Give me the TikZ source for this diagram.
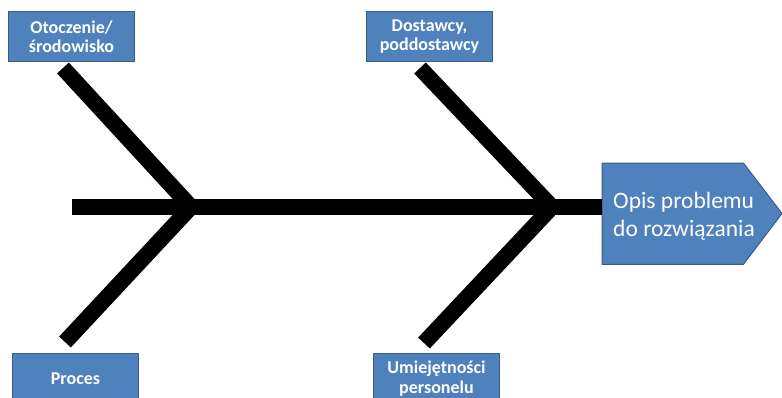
\documentclass[tikz,border=0pt]{standalone}
\usepackage{fontspec}
\setmainfont{Carlito}
\definecolor{boxfill}{RGB}{79,129,189}
\definecolor{boxline}{RGB}{56,93,138}
\begin{document}
\begin{tikzpicture}[x=1pt,y=-1pt,
  label box/.style={draw=boxline, line width=1pt, fill=boxfill, text=white,
    font=\bfseries\fontsize{18}{19.5}\selectfont, align=center,
    minimum width=126pt, minimum height=50pt, inner sep=0pt},
  bone/.style={line width=16pt, line join=miter, line cap=butt}]
\useasboundingbox (0,0) rectangle (782,397);
\clip (0,0) rectangle (782,397);
% problem box (pentagon)
\node[minimum width=141pt, minimum height=101pt, inner sep=0pt, anchor=north west] (body) at (602,163) {};
\coordinate (tip) at (782,213.5);
\fill[boxfill, draw=boxline, line width=1pt] (body.north west) -- (body.north east) -- (tip) -- (body.south east) -- (body.south west) -- cycle;
\node[text=white, font=\fontsize{23.5}{28}\selectfont, align=left] (problem) at (684,216) {Opis problemu\\do rozwiązania};
% labels
\node[label box, anchor=north west] (env) at (8,11) {Otoczenie/\\środowisko};
\node[label box, anchor=north west] (sup) at (366,11) {Dostawcy,\\poddostawcy};
\node[label box, anchor=north west] (proc) at (12,353) {Proces};
\node[label box, anchor=north west] (skill) at (373,353) {Umiejętności\\personelu};
% skeleton
\coordinate (tail) at (72,207);
\coordinate (j1) at (191,207);
\coordinate (j2) at (552,207);
\coordinate (ul) at (63,68);
\coordinate (ll) at (65,342);
\coordinate (ur) at (420,68);
\coordinate (lr) at (424,343);
\draw[bone] (tail) -- (tail -| body.west);
\draw[bone] (ul) -- (j1) -- (ll);
\draw[bone] (ur) -- (j2) -- (lr);
\end{tikzpicture}
\end{document}
